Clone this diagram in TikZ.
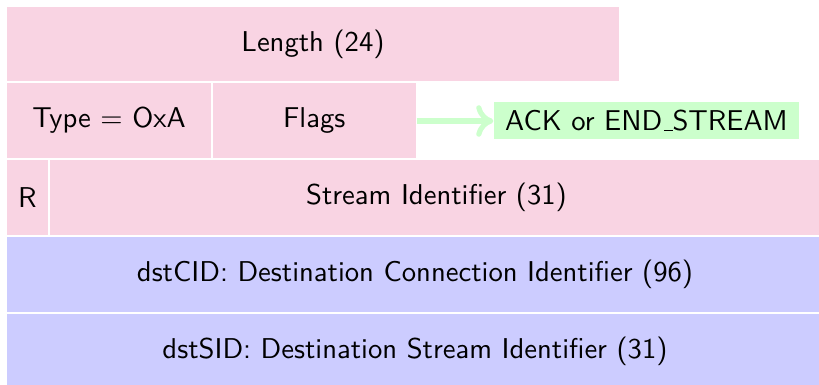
\documentclass[tikz,border=0pt]{standalone}
\usetikzlibrary{arrows.meta}
\definecolor{fpink}{HTML}{F9D4E3}
\definecolor{fblue}{HTML}{CCCCFF}
\definecolor{fgreen}{HTML}{CCFFCC}
\newcommand{\lowbar}{\leavevmode\kern.06em\vbox{\hrule width .3em height .4pt}}
\begin{document}
\begin{tikzpicture}[x=0.349pt,y=-0.349pt,
  font=\sffamily,
  field/.style={draw=white, line width=0.7pt, rectangle, anchor=north west, inner sep=0pt, outer sep=0pt},
  pinkf/.style={field, fill=fpink},
  bluef/.style={field, fill=fblue},
  flagnote/.style={fill=fgreen, inner sep=0pt, minimum width=305*0.349pt, minimum height=37*0.349pt},
  flagarrow/.style={draw=fgreen, line width=1.8pt, -{To[round,length=6pt,width=11pt]}}]
\useasboundingbox (0,0) rectangle (819,385);
\clip (0,0) rectangle (819,385);
% row 1
\node[pinkf, minimum width=614*0.349pt, minimum height=76*0.349pt] (len) at (6,6) {Length (24)};
% row 2
\node[pinkf, minimum width=206*0.349pt, minimum height=77*0.349pt] (type) at (6,82) {Type $=$ OxA};
\node[pinkf, minimum width=204.5*0.349pt, minimum height=77*0.349pt] (flags) at (212,82) {Flags};
% row 3
\node[pinkf, minimum width=43*0.349pt, minimum height=77*0.349pt] (r) at (6,159) {R};
\node[pinkf, minimum width=775*0.349pt, minimum height=77*0.349pt] (sid) at (49,159) {Stream Identifier (31)};
% row 4
\node[bluef, minimum width=818*0.349pt, minimum height=77*0.349pt] (cid) at (6,236) {dstCID: Destination Connection Identifier (96)};
% row 5
\node[bluef, minimum width=818*0.349pt, minimum height=77*0.349pt] (dsid) at (6,313) {dstSID: Destination Stream Identifier (31)};
% note
\node[flagnote] (ack) at (646.5,121) {ACK or END\lowbar STREAM};
\draw[flagarrow] (flags.east |- ack) -- (ack.west);
\end{tikzpicture}
\end{document}
